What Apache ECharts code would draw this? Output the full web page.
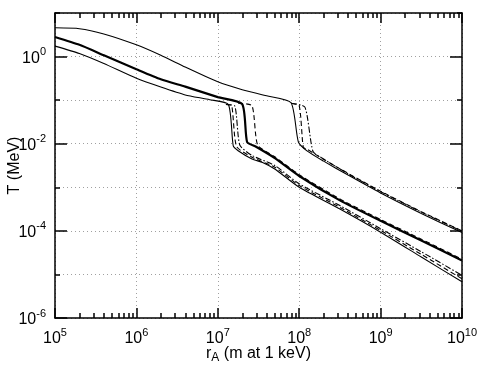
<!DOCTYPE html>
<html>
<head>
<meta charset="utf-8">
<script src="https://cdn.jsdelivr.net/npm/echarts@6/dist/echarts.min.js"></script>
<style>
html, body { margin: 0; padding: 0; background: #fff; }
#main { width: 481px; height: 371px; }
</style>
</head>
<body>
<div id="main"></div>
<script>
// all values are log10 exponents
var aX = [5.0, 5.3, 5.6, 6.0, 6.3, 6.6, 7.0, 7.3, 7.6, 7.9, 7.99, 8.1, 8.3, 8.6, 9.0, 9.5, 10.0];
var aY = [0.66, 0.64, 0.52, 0.27, 0.03, -0.24, -0.58, -0.76, -0.9, -1.06, -1.96, -2.17, -2.4, -2.72, -3.13, -3.6, -4.04];
var aDashX = [7.9, 8.0, 8.05, 8.1, 8.3, 8.6, 9.0, 9.5, 10.0];
var aDashY = [-1.07, -1.13, -2.08, -2.13, -2.36, -2.68, -3.09, -3.56, -4.0];
var aDotX = [7.9, 8.07, 8.17, 8.3, 8.6, 9.0, 9.5, 10.0];
var aDotY = [-1.07, -1.16, -2.18, -2.35, -2.69, -3.1, -3.57, -4.01];

var bX = [5.0, 5.3, 5.6, 6.0, 6.3, 6.6, 7.0, 7.3, 7.36, 7.47, 7.7, 8.0, 8.5, 9.0, 9.5, 10.0];
var bY = [0.45, 0.27, 0.03, -0.29, -0.52, -0.69, -0.93, -1.09, -1.96, -2.07, -2.33, -2.74, -3.3, -3.77, -4.22, -4.68];
var bDashX = [7.25, 7.42, 7.49, 7.7, 8.0, 8.5, 9.0, 9.5, 10.0];
var bDashY = [-1.07, -1.13, -2.03, -2.3, -2.71, -3.27, -3.74, -4.19, -4.65];

var cX = [5.0, 5.3, 5.6, 6.0, 6.3, 6.6, 6.9, 7.13, 7.19, 7.25, 7.42, 7.55, 7.7, 8.0, 8.5, 9.0, 9.5, 10.0];
var cY = [0.24, 0.07, -0.16, -0.5, -0.7, -0.88, -0.99, -1.1, -2.05, -2.16, -2.35, -2.43, -2.58, -3.0, -3.5, -4.03, -4.6, -5.17];
var cDotX = [7.1, 7.21, 7.27, 7.42, 7.7, 8.0, 8.5, 9.0, 9.5, 10.0];
var cDotY = [-1.1, -1.14, -2.03, -2.27, -2.5, -2.92, -3.42, -3.95, -4.48, -5.02];
var cDashX = [7.1, 7.17, 7.23, 7.42, 7.7, 8.0, 8.5, 9.0, 9.5, 10.0];
var cDashY = [-1.1, -1.12, -2.06, -2.31, -2.54, -2.96, -3.46, -3.99, -4.54, -5.1];

var yEven = [1e-6, 1e-4, 1e-2, 1];

var toPoints = function (xs, ys) {
    var pts = [];
    for (var i = 0; i < xs.length; i++) {
        pts.push([Math.pow(10, xs[i]), Math.pow(10, ys[i])]);
    }
    return pts;
};

var minorX = [];
for (var k = 5; k < 10; k++) {
    for (var m = 2; m < 10; m++) {
        minorX.push(m * Math.pow(10, k));
    }
}

var font = 'Liberation Sans';
var expo = function (v) { return Math.round(Math.log10(v)); };
var richPow = {
    b: {fontSize: 16, lineHeight: 20, fontFamily: font, color: '#000', verticalAlign: 'bottom'},
    s: {fontSize: 11, lineHeight: 11, fontFamily: font, color: '#000', verticalAlign: 'top'}
};
var dotted = {color: '#a0a0a0', type: [1, 3], width: 1};
var black = {color: '#000', width: 1.5};

var line = function (data, width, type) {
    return {
        type: 'line',
        data: data,
        showSymbol: false,
        smooth: 0.2,
        silent: true,
        lineStyle: {color: '#000', width: width, type: type}
    };
};

var chart = echarts.init(document.getElementById('main'));
var option = {
    animation: false,
    grid: {left: 55, right: 19, top: 13, bottom: 53, outerBoundsMode: 'none', containLabel: false},
    xAxis: [{
        type: 'log', min: 1e5, max: 1e10, position: 'bottom', splitNumber: 5,
        axisLine: {onZero: false, lineStyle: black},
        axisTick: {inside: true, length: 10, lineStyle: black},
        axisLabel: {
            margin: 9, interval: 0,
            formatter: function (v) { return '{b|10}{s|' + expo(v) + '}'; },
            rich: richPow
        },
        splitLine: {show: true, lineStyle: dotted},
        name: '{n|r}{sub|A}{n| (m at 1 keV)}',
        nameLocation: 'middle', nameGap: 28, nameMoveOverlap: false,
        nameTextStyle: {
            rich: {
                n: {fontSize: 16, lineHeight: 18, fontFamily: font, color: '#000', verticalAlign: 'top'},
                sub: {fontSize: 12, lineHeight: 12, fontFamily: font, color: '#000', verticalAlign: 'bottom', padding: [16, 0, 0, 0]}
            }
        }
    }, {
        type: 'log', min: 1e5, max: 1e10, position: 'bottom',
        axisLine: {show: false},
        axisTick: {inside: true, length: 5, lineStyle: black, customValues: minorX},
        axisLabel: {show: false},
        splitLine: {show: false}
    }, {
        type: 'log', min: 1e5, max: 1e10, position: 'top', splitNumber: 5,
        axisLine: {onZero: false, lineStyle: black},
        axisTick: {inside: true, length: 10, lineStyle: black},
        axisLabel: {show: false},
        splitLine: {show: false}
    }, {
        type: 'log', min: 1e5, max: 1e10, position: 'top',
        axisLine: {show: false},
        axisTick: {inside: true, length: 5, lineStyle: black, customValues: minorX},
        axisLabel: {show: false},
        splitLine: {show: false}
    }],
    yAxis: [{
        type: 'log', min: 1e-6, max: 10, position: 'left', splitNumber: 7,
        axisLine: {onZero: false, lineStyle: black},
        axisTick: {inside: true, length: 5, lineStyle: black},
        axisLabel: {
            margin: 9, interval: 0,
            formatter: function (v) {
                var e = expo(v);
                return e % 2 === 0 ? '{b|10}{s|' + e + '}' : '';
            },
            rich: richPow
        },
        splitLine: {show: true, lineStyle: dotted},
        name: 'T (MeV)', nameLocation: 'middle', nameGap: 32, nameMoveOverlap: false,
        nameTextStyle: {fontSize: 16, fontFamily: font, color: '#000'}
    }, {
        type: 'log', min: 1e-6, max: 10, position: 'left',
        axisLine: {show: false},
        axisTick: {inside: true, length: 12, lineStyle: black, customValues: yEven},
        axisLabel: {show: false},
        splitLine: {show: false}
    }, {
        type: 'log', min: 1e-6, max: 10, position: 'right', splitNumber: 7,
        axisLine: {onZero: false, lineStyle: black},
        axisTick: {inside: true, length: 5, lineStyle: black},
        axisLabel: {show: false},
        splitLine: {show: false}
    }, {
        type: 'log', min: 1e-6, max: 10, position: 'right',
        axisLine: {show: false},
        axisTick: {inside: true, length: 12, lineStyle: black, customValues: yEven},
        axisLabel: {show: false},
        splitLine: {show: false}
    }],
    series: [
        line(toPoints(aX, aY), 1.1, 'solid'),
        line(toPoints(aDashX, aDashY), 1.1, [5, 3]),
        line(toPoints(aDotX, aDotY), 1.1, [6, 2, 1.5, 2]),
        line(toPoints(bX, bY), 2.2, 'solid'),
        line(toPoints(bDashX, bDashY), 1.1, [5, 3]),
        line(toPoints(cX, cY), 1.1, 'solid'),
        line(toPoints(cDotX, cDotY), 1.1, [6, 2, 1.5, 2]),
        line(toPoints(cDashX, cDashY), 1.1, [5, 3])
    ]
};
chart.setOption(option);
</script>
</body>
</html>
